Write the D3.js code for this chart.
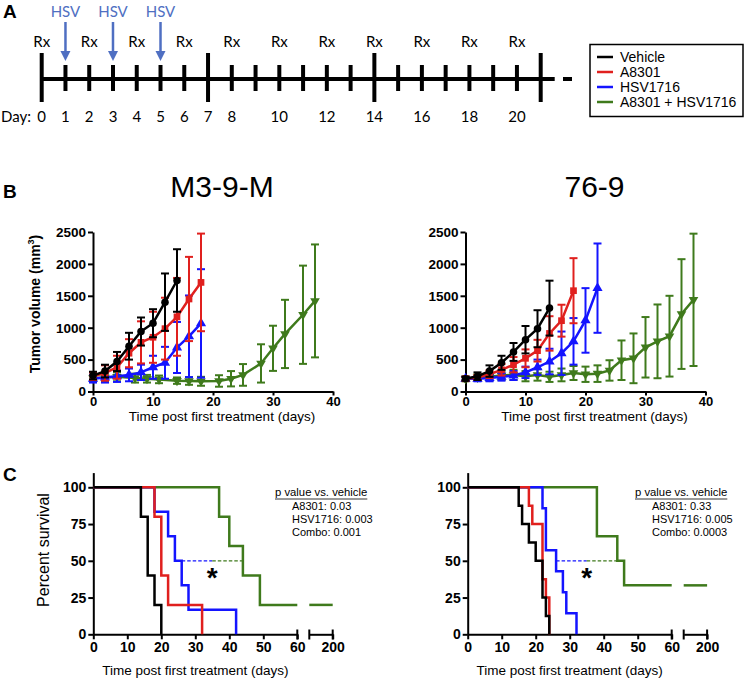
<!DOCTYPE html>
<html><head><meta charset="utf-8">
<script src="https://cdn.jsdelivr.net/npm/d3@7"></script>
<style>body{margin:0;background:#fff}</style>
</head><body><svg id="c" width="747" height="684"></svg>
<script>
// ---------- DATA ----------
const groups = ["Vehicle", "A8301", "HSV1716", "A8301 + HSV1716"];
const colors = ["#000000", "#e0201e", "#1414ff", "#3f7a1c"];

// Panel A timeline
const timelineDays = d3.range(0, 22);
const majorDays = [0, 7, 14, 21];
const rxDays = [0, 2, 4, 6, 8, 10, 12, 14, 16, 18, 20];
const hsvDays = [1, 3, 5];
const dayLabels = [0, 1, 2, 3, 4, 5, 6, 7, 8, 10, 12, 14, 16, 18, 20];

// Panel B, M3-9-M tumor volume (mm3)
const m39VehDays = [0, 2, 4, 6, 8, 10, 12, 14];
const m39VehVal = [250, 320, 470, 710, 940, 1070, 1400, 1740];
const m39VehErr = [60, 100, 150, 210, 220, 220, 450, 490];
const m39A83Days = [0, 2, 4, 6, 8, 10, 12, 14, 16, 18];
const m39A83Val = [240, 290, 380, 600, 770, 850, 985, 1170, 1450, 1710];
const m39A83Err = [60, 120, 180, 220, 330, 400, 485, 610, 660, 765];
const m39HsvDays = [0, 2, 4, 6, 8, 10, 12, 14, 16, 18];
const m39HsvVal = [200, 220, 240, 260, 300, 380, 450, 690, 865, 1067];
const m39HsvErr = [60, 80, 90, 100, 120, 180, 250, 400, 640, 850];
const m39ComDays = [0, 2, 4, 7, 9, 11, 14, 16, 18, 21, 23, 25, 28, 30, 32, 35, 37];
const m39ComVal = [210, 220, 230, 210, 200, 190, 170, 165, 160, 165, 200, 260, 440, 677, 902, 1203, 1420];
const m39ComErr = [50, 60, 70, 70, 60, 60, 50, 60, 70, 90, 120, 170, 300, 354, 535, 770, 885];

// Panel B, 76-9 tumor volume (mm3)
const t769VehDays = [0, 2, 4, 6, 8, 10, 12, 14];
const t769VehVal = [200, 240, 320, 450, 620, 812, 984, 1307];
const t769VehErr = [30, 60, 90, 110, 140, 215, 290, 430];
const t769A83Days = [0, 2, 4, 6, 8, 10, 12, 14, 16, 18];
const t769A83Val = [200, 220, 270, 340, 420, 520, 640, 910, 1110, 1580];
const t769A83Err = [30, 40, 60, 90, 120, 140, 170, 270, 250, 510];
const t769HsvDays = [0, 2, 4, 6, 8, 10, 12, 14, 16, 18, 20, 22];
const t769HsvVal = [200, 200, 210, 230, 250, 300, 380, 470, 600, 786, 1114, 1620];
const t769HsvErr = [30, 40, 50, 60, 70, 90, 120, 200, 340, 365, 506, 700];
const t769ComDays = [0, 2, 4, 6, 8, 10, 12, 14, 16, 18, 20, 22, 24, 26, 28, 30, 32, 34, 36, 38];
const t769ComVal = [200, 220, 230, 250, 260, 240, 260, 230, 260, 290, 270, 280, 330, 490, 520, 693, 786, 867, 1214, 1437];
const t769ComErr = [40, 50, 60, 70, 80, 80, 90, 80, 100, 110, 120, 130, 160, 310, 390, 474, 578, 633, 860, 1037];

// Panel C, M3-9-M survival (%)
const sM39VehT = [0, 14, 16, 18, 20];
const sM39VehS = [100, 80, 40, 20, 0];
const sM39A83T = [0, 18, 20, 22, 32];
const sM39A83S = [100, 80, 40, 20, 0];
const sM39HsvT = [0, 18, 22, 24, 26, 28, 42];
const sM39HsvS = [100, 83.3, 66.7, 50, 33.3, 16.7, 0];
const sM39ComT = [0, 37, 40, 44, 49, 60];
const sM39ComS = [100, 80, 60, 40, 20, 20];
const sM39ComTail = 20;
const sM39Median = [26, 35, 44];
const pM39 = ["A8301: 0.03", "HSV1716: 0.003", "Combo: 0.001"];

// Panel C, 76-9 survival (%)
const s769VehT = [0, 15, 16, 18, 20, 22, 23, 24];
const s769VehS = [100, 87.5, 75, 62.5, 50, 25, 12.5, 0];
const s769A83T = [0, 18, 19, 22, 23, 24];
const s769A83S = [100, 87.5, 75, 37.5, 25, 0];
const s769HsvT = [0, 22, 23, 26, 28, 29, 32];
const s769HsvS = [100, 85.7, 57.1, 42.9, 28.6, 14.3, 0];
const s769ComT = [0, 38, 44, 46, 60];
const s769ComS = [100, 66.7, 50, 33.3, 33.3];
const s769ComTail = 33.3;
const s769Median = [26, 35, 44];
const p769 = ["A8301: 0.33", "HSV1716: 0.005", "Combo: 0.0003"];

const volTicksY = [0, 500, 1000, 1500, 2000, 2500];
const volTicksX = [0, 10, 20, 30, 40];
const survTicksY = [0, 25, 50, 75, 100];
const survTicksX = [0, 10, 20, 30, 40, 50, 60];

// ---------- DRAW ----------
const ARIAL = "'Liberation Sans', Arial, sans-serif";
const CAL = "Lato, 'Open Sans', sans-serif";
const svg = d3.select("#c");
const HSVC = "#4f6fc2";
const fmt = d3.format("d");

// Panel letters
[["A", 3, 18], ["B", 3, 198], ["C", 3, 481]].forEach(([t, x, y]) =>
  svg.append("text").attr("x", x).attr("y", y).text(t)
    .attr("font-family", ARIAL).attr("font-weight", "bold").attr("font-size", 19));

// ---- Panel A ----
const xa = d3.scaleLinear().domain([0, 21]).range([41.7, 540.7]);
const gA = svg.append("g");
const lineY = 79;
gA.append("line").attr("x1", xa(0)).attr("x2", xa(21) + 14).attr("y1", lineY).attr("y2", lineY)
  .attr("stroke", "#000").attr("stroke-width", 4);
gA.append("line").attr("x1", 563).attr("x2", 572).attr("y1", lineY).attr("y2", lineY)
  .attr("stroke", "#000").attr("stroke-width", 4);
gA.selectAll(".tk").data(timelineDays).join("line")
  .attr("x1", d => xa(d)).attr("x2", d => xa(d))
  .attr("y1", d => majorDays.includes(d) ? 53 : 65)
  .attr("y2", d => majorDays.includes(d) ? 102 : 91)
  .attr("stroke", "#000").attr("stroke-width", 4);
gA.selectAll(".rx").data(rxDays).join("text")
  .attr("x", d => xa(d)).attr("y", 47).attr("text-anchor", "middle")
  .attr("font-family", CAL).attr("font-size", 15).text("Rx");
gA.selectAll(".hsv").data(hsvDays).join("text")
  .attr("x", d => xa(d)).attr("y", 17).attr("text-anchor", "middle")
  .attr("font-family", CAL).attr("font-size", 15).attr("fill", HSVC).text("HSV");
hsvDays.forEach(d => {
  gA.append("line").attr("x1", xa(d)).attr("x2", xa(d)).attr("y1", 22).attr("y2", 52)
    .attr("stroke", HSVC).attr("stroke-width", 2.5);
  gA.append("path").attr("d", `M${xa(d) - 5},51 L${xa(d) + 5},51 L${xa(d)},61 Z`).attr("fill", HSVC);
});
gA.append("text").attr("x", 1).attr("y", 122).attr("font-family", CAL).attr("font-size", 15).text("Day:");
gA.selectAll(".dl").data(dayLabels).join("text")
  .attr("x", d => xa(d)).attr("y", 122).attr("text-anchor", "middle")
  .attr("font-family", CAL).attr("font-size", 15).text(d => d);

// Legend
const lg = svg.append("g");
lg.append("rect").attr("x", 590).attr("y", 44.5).attr("width", 153).attr("height", 72)
  .attr("fill", "none").attr("stroke", "#000").attr("stroke-width", 1.5);
const legY = [57, 72, 87, 102];
groups.forEach((g, i) => {
  lg.append("line").attr("x1", 597).attr("x2", 613).attr("y1", legY[i]).attr("y2", legY[i])
    .attr("stroke", colors[i]).attr("stroke-width", 2.5);
  lg.append("text").attr("x", 620).attr("y", legY[i] + 5).attr("font-family", ARIAL)
    .attr("font-size", 14).text(g);
});

function styleAxis(g, fs) {
  g.select(".domain").attr("stroke-width", 2).attr("stroke", "#000");
  g.selectAll(".tick line").attr("stroke-width", 2).attr("stroke", "#000");
  g.selectAll(".tick text").attr("font-family", ARIAL).attr("font-weight", "bold")
    .attr("font-size", fs || 14).attr("fill", "#000");
}

// ---- Panel B ----
function drawVolume(x0, title, series) {
  const x = d3.scaleLinear().domain([0, 40]).range([x0, x0 + 240]);
  const y = d3.scaleLinear().domain([0, 2500]).range([391.5, 232]);
  const g = svg.append("g");
  const gx = g.append("g").attr("transform", "translate(0,391.5)")
    .call(d3.axisBottom(x).tickValues(volTicksX).tickFormat(fmt).tickSize(4).tickPadding(1).tickSizeOuter(0));
  styleAxis(gx, 13);
  const gy = g.append("g").attr("transform", `translate(${x0},0)`)
    .call(d3.axisLeft(y).tickValues(volTicksY).tickFormat(fmt).tickSize(5).tickPadding(2).tickSizeOuter(0));
  styleAxis(gy, 13.5);
  g.append("text").attr("x", x0 + 129).attr("y", 197).attr("text-anchor", "middle")
    .attr("font-family", ARIAL).attr("font-size", 30).text(title);
  g.append("text").attr("x", x0 + 129).attr("y", 421).attr("text-anchor", "middle")
    .attr("font-family", ARIAL).attr("font-size", 13.5).text("Time post first treatment (days)");
  const symbols = [d3.symbolCircle, d3.symbolSquare, d3.symbolTriangle, d3.symbolTriangle];
  const sizes = [45, 45, 45, 40];
  const order = [3, 2, 1, 0];
  order.forEach(i => {
    const [days, vals, errs] = series[i];
    const pts = days.map((d, k) => ({ d, v: vals[k], e: errs[k] }));
    const c = colors[i];
    const sg = g.append("g");
    pts.forEach(p => {
      const lo = Math.max(0, p.v - p.e), hi = p.v + p.e;
      sg.append("line").attr("x1", x(p.d)).attr("x2", x(p.d)).attr("y1", y(lo)).attr("y2", y(hi))
        .attr("stroke", c).attr("stroke-width", 2);
      [lo, hi].forEach(b => sg.append("line").attr("x1", x(p.d) - 4).attr("x2", x(p.d) + 4)
        .attr("y1", y(b)).attr("y2", y(b)).attr("stroke", c).attr("stroke-width", 2));
    });
    sg.append("path").datum(pts).attr("fill", "none").attr("stroke", c).attr("stroke-width", 2.5)
      .attr("d", d3.line().x(p => x(p.d)).y(p => y(p.v)));
    sg.selectAll(".m").data(pts).join("path")
      .attr("transform", p => `translate(${x(p.d)},${y(p.v)})` + (i === 3 ? " rotate(180)" : ""))
      .attr("d", d3.symbol().type(symbols[i]).size(sizes[i])).attr("fill", c);
  });
}
drawVolume(93, "M3-9-M", [
  [m39VehDays, m39VehVal, m39VehErr], [m39A83Days, m39A83Val, m39A83Err],
  [m39HsvDays, m39HsvVal, m39HsvErr], [m39ComDays, m39ComVal, m39ComErr]]);
drawVolume(465.5, "76-9", [
  [t769VehDays, t769VehVal, t769VehErr], [t769A83Days, t769A83Val, t769A83Err],
  [t769HsvDays, t769HsvVal, t769HsvErr], [t769ComDays, t769ComVal, t769ComErr]]);

svg.append("text").attr("transform", "translate(40,304) rotate(-90)").attr("text-anchor", "middle")
  .attr("font-family", ARIAL).attr("font-weight", "bold").attr("font-size", 14)
  .call(t => { t.append("tspan").text("Tumor volume (mm");
    t.append("tspan").attr("font-size", 9).attr("dy", -6).text("3");
    t.append("tspan").attr("dy", 6).text(")"); });

// ---- Panel C ----
function drawSurvival(x0, series, tail, median, pvals, hx) {
  const x = d3.scaleLinear().domain([0, 60]).range([x0, x0 + 204]);
  const x2 = d3.scaleLinear().domain([60, 200]).range([x0 + 216, x0 + 239.4]);
  const y = d3.scaleLinear().domain([0, 110]).range([634.3, 472.6]);
  const g = svg.append("g");
  const gx = g.append("g").attr("transform", "translate(0,634.3)")
    .call(d3.axisBottom(x).tickValues(survTicksX).tickFormat(fmt).tickSize(5).tickPadding(3).tickSizeOuter(0));
  styleAxis(gx);
  const gx2 = g.append("g").attr("transform", "translate(0,634.3)")
    .call(d3.axisBottom(x2).tickValues([200]).tickFormat(fmt).tickSize(5).tickPadding(3).tickSizeOuter(0));
  styleAxis(gx2);
  [x(60), x2(60), x2(200)].forEach(px => g.append("line").attr("x1", px).attr("x2", px)
    .attr("y1", 629.5).attr("y2", 639.5).attr("stroke", "#000").attr("stroke-width", 2));
  const gy = g.append("g").attr("transform", `translate(${x0},0)`)
    .call(d3.axisLeft(y).tickValues(survTicksY).tickFormat(fmt).tickSize(5).tickPadding(2).tickSizeOuter(0));
  styleAxis(gy);
  g.append("text").attr("x", x0 + 102).attr("y", 675).attr("text-anchor", "middle")
    .attr("font-family", ARIAL).attr("font-size", 13.5).text("Time post first treatment (days)");
  const order = [3, 2, 1, 0];
  order.forEach(i => {
    const [ts, ss] = series[i];
    const pts = ts.map((t, k) => [t, ss[k]]);
    g.append("path").datum(pts).attr("fill", "none").attr("stroke", colors[i]).attr("stroke-width", 2.5)
      .attr("d", d3.line().x(p => x(p[0])).y(p => y(p[1])).curve(d3.curveStepAfter));
  });
  g.append("line").attr("x1", x2(60)).attr("x2", x2(200)).attr("y1", y(tail)).attr("y2", y(tail))
    .attr("stroke", colors[3]).attr("stroke-width", 2.5);
  g.append("line").attr("x1", x(median[0])).attr("x2", x(median[1])).attr("y1", y(50)).attr("y2", y(50))
    .attr("stroke", colors[2]).attr("stroke-width", 1.3).attr("stroke-dasharray", "3.5,2");
  g.append("line").attr("x1", x(median[1])).attr("x2", x(median[2])).attr("y1", y(50)).attr("y2", y(50))
    .attr("stroke", colors[3]).attr("stroke-width", 1.3).attr("stroke-dasharray", "3.5,2");
  g.append("text").attr("x", x(median[1])).attr("y", 587).attr("text-anchor", "middle")
    .attr("font-family", ARIAL).attr("font-weight", "bold").attr("font-size", 28).text("*");
  const ht = g.append("text").attr("x", hx).attr("y", 496).attr("font-family", ARIAL)
    .attr("font-size", 11.3).text("p value vs. vehicle");
  const w = ht.node().getComputedTextLength();
  g.append("line").attr("x1", hx).attr("x2", hx + w).attr("y1", 499).attr("y2", 499)
    .attr("stroke", "#000").attr("stroke-width", 0.8);
  pvals.forEach((p, k) => g.append("text").attr("x", hx + 17).attr("y", 510 + k * 13)
    .attr("font-family", ARIAL).attr("font-size", 11).text(p));
}
drawSurvival(93.3, [[sM39VehT, sM39VehS], [sM39A83T, sM39A83S], [sM39HsvT, sM39HsvS], [sM39ComT, sM39ComS]],
  sM39ComTail, sM39Median, pM39, 275);
drawSurvival(467.7, [[s769VehT, s769VehS], [s769A83T, s769A83S], [s769HsvT, s769HsvS], [s769ComT, s769ComS]],
  s769ComTail, s769Median, p769, 635);

svg.append("text").attr("transform", "translate(49,550) rotate(-90)").attr("text-anchor", "middle")
  .attr("font-family", ARIAL).attr("font-size", 16).text("Percent survival");
</script></body></html>
